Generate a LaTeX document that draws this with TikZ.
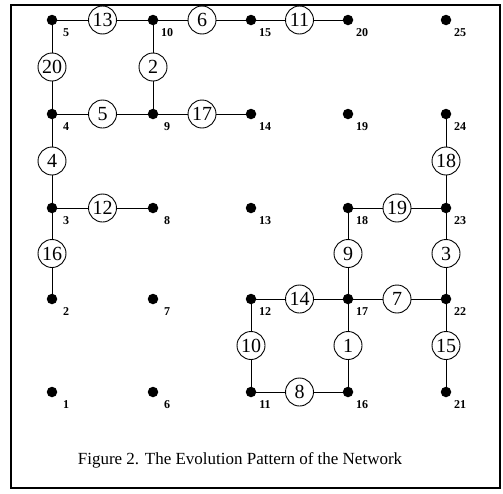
\documentclass[tikz,border=0pt]{standalone}
\usepackage{fontspec}
\setmainfont{Liberation Serif}
\begin{document}
\begin{tikzpicture}[x=1pt,y=-1pt,
  dot/.style={circle,fill=black,inner sep=0pt,minimum size=10.5pt},
  wt/.style={circle,draw,fill=white,line width=0.9pt,inner sep=0pt,minimum size=28pt,font=\fontsize{20}{20}\selectfont},
  lbl/.style={font=\bfseries\fontsize{12}{12}\selectfont,inner sep=0pt},
  edge/.style={line width=0.9pt}]
\useasboundingbox (0,0) rectangle (503,493);
\draw[line width=1.3pt] (11,5) rectangle (500,488);
% grid dots: column c, row r -> id = 5*(c-1)+r
\foreach \c/\x in {1/52,2/153,3/251,4/348,5/446}{
  \foreach \r/\y in {1/392,2/299,3/208,4/114,5/20}{
    \pgfmathtruncatemacro{\id}{5*(\c-1)+\r}
    \node[dot] (n\id) at (\x,\y) {};
    \node[lbl] (l\id) at (\x+14,\y+13) {\id};
  }
}
% edges with weight circles
\foreach \a/\b/\w in {5/10/13,10/15/6,15/20/11,5/4/20,10/9/2,4/9/5,9/14/17,4/3/4,3/8/12,3/2/16,18/23/19,24/23/18,23/22/3,18/17/9,12/17/14,17/22/7,12/11/10,17/16/1,11/16/8,22/21/15}{
  \draw[edge] (n\a) -- (n\b) node[wt,midway] (w\w) {\w};
}
\node[font=\fontsize{17}{17}\selectfont] (cap) at (240,460) {Figure 2. The Evolution Pattern of the Network};
\end{tikzpicture}
\end{document}
